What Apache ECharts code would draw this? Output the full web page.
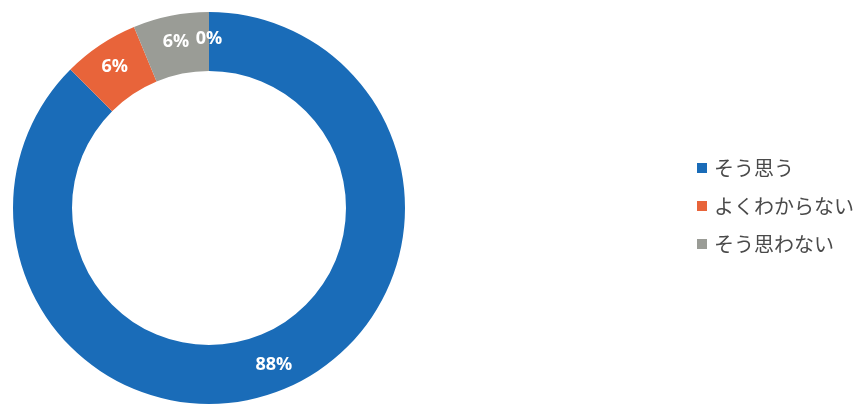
<!DOCTYPE html>
<html><head><meta charset="utf-8">
<script src="https://cdn.jsdelivr.net/npm/echarts@6/dist/echarts.min.js"></script>
<style>html,body{margin:0;padding:0;background:#fff}#c{width:860px;height:405px}</style>
</head><body><div id="c"></div>
<script>
const categories = ['そう思う', 'よくわからない', 'そう思わない', '無回答'];
const values = [87.5, 6.25, 6.25, 0];
const legendNames = ['そう思う', 'よくわからない', 'そう思わない'];
const colors = ['#1a6cb8', '#e8643a', '#9a9c96', '#f0c020'];

const chart = echarts.init(document.getElementById('c'));
chart.setOption({
  animation: false,
  color: colors,
  legend: {
    data: legendNames,
    orient: 'vertical',
    left: 692,
    top: 153,
    icon: 'rect',
    itemWidth: 10,
    itemHeight: 10,
    itemGap: 18,
    textStyle: { fontSize: 20, color: '#4a4a4a', fontFamily: 'Noto Sans CJK JP', padding: [0,0,0,2] }
  },
  series: [{
    type: 'pie',
    center: [209, 208],
    radius: [137, 196],
    startAngle: 90,
    clockwise: true,
    minShowLabelAngle: 0,
    avoidLabelOverlap: false,
    itemStyle: { borderWidth: 0 },
    label: {
      position: 'inside',
      color: '#fff',
      fontWeight: 'bold',
      fontSize: 18,
      fontFamily: 'Open Sans',
      formatter: p => Math.round(p.percent) + '%'
    },
    labelLine: { show: false },
    data: categories.map((n, i) => ({ name: n, value: values[i] }))
  }]
});
</script></body></html>
